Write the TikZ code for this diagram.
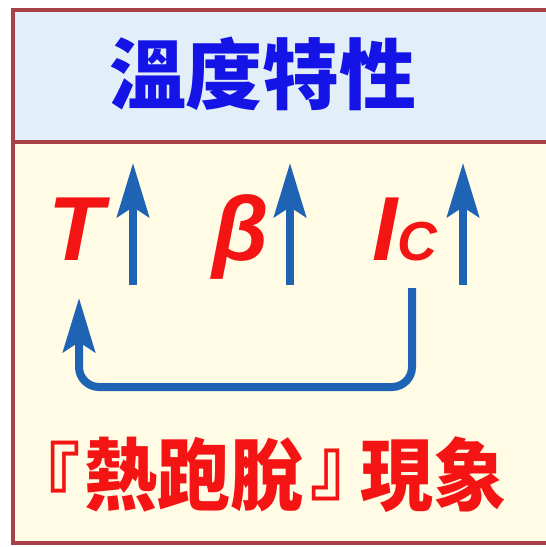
\documentclass[tikz,border=0pt]{standalone}
\usepackage{fontspec}
\usepackage{graphicx}
\usetikzlibrary{arrows.meta}
\newfontfamily\cjkfont{Noto Sans CJK TC}
\newfontfamily\latinfont{Liberation Sans}
\definecolor{framered}{HTML}{A8404A}
\definecolor{topbg}{HTML}{E2EEF8}
\definecolor{botbg}{HTML}{FFFBE4}
\definecolor{titleblue}{HTML}{1414E6}
\definecolor{txtred}{HTML}{F41414}
\definecolor{arrblue}{HTML}{1F64B4}
\tikzset{
  frameline/.style={draw=framered, line width=3.5pt},
  uparrow/.style={draw=arrblue, line width=8pt, -{Stealth[length=54pt, width=32pt, inset=10pt]}},
  symtext/.style={text=txtred, font=\latinfont\bfseries\itshape\fontsize{91}{91}\selectfont, inner sep=0pt, anchor=base},
  bottext/.style={text=txtred, font=\cjkfont\bfseries\fontsize{73}{73}\selectfont, inner sep=0pt, yscale=1.08, transform shape},
}
\begin{document}
\begin{tikzpicture}[x=1pt, y=-1pt]
\useasboundingbox (0,0) rectangle (546,547);
% backgrounds
\fill[topbg] (13,10) rectangle (546,142);
\fill[botbg] (13,142) rectangle (546,543);
% frame
\draw[frameline] (546,10) -- (13,10) -- (13,543) -- (546,543);
\draw[frameline] (13,142) -- (546,142);
% title
\node (title) at (263,74) [text=titleblue, font=\cjkfont\bfseries\fontsize{77}{77}\selectfont, inner sep=0pt] {溫度特性};
% symbols
\node (T) at (76,260) [symtext] {T};
\node (beta) at (241,260) [symtext] {β};
\node (IC) at (405,260) [symtext] {I{\fontsize{55}{55}\selectfont C}};
% arrows
\coordinate (a1s) at (133,285); \coordinate (a1t) at (133,163);
\coordinate (a2s) at (290,285); \coordinate (a2t) at (290,163);
\coordinate (a3s) at (463,285); \coordinate (a3t) at (463,163);
\draw[uparrow] (a1s) -- (a1t);
\draw[uparrow] (a2s) -- (a2t);
\draw[uparrow] (a3s) -- (a3t);
\coordinate (fbs) at (412,288);
\coordinate (fbt) at (79,298);
\draw[uparrow, rounded corners=20pt] (fbs) -- (412,387) -- (79,387) -- (fbt);
% bottom text
\node (lbr) at (7,475) [bottext, anchor=west] {\makebox[60pt][l]{『}};
\node (word) at (194,475) [bottext] {熱跑脫};
\node (rbr) at (310,475) [bottext, anchor=west] {\makebox[36pt][l]{』}};
\node (phen) at (433,475) [bottext] {現象};
\end{tikzpicture}
\end{document}
